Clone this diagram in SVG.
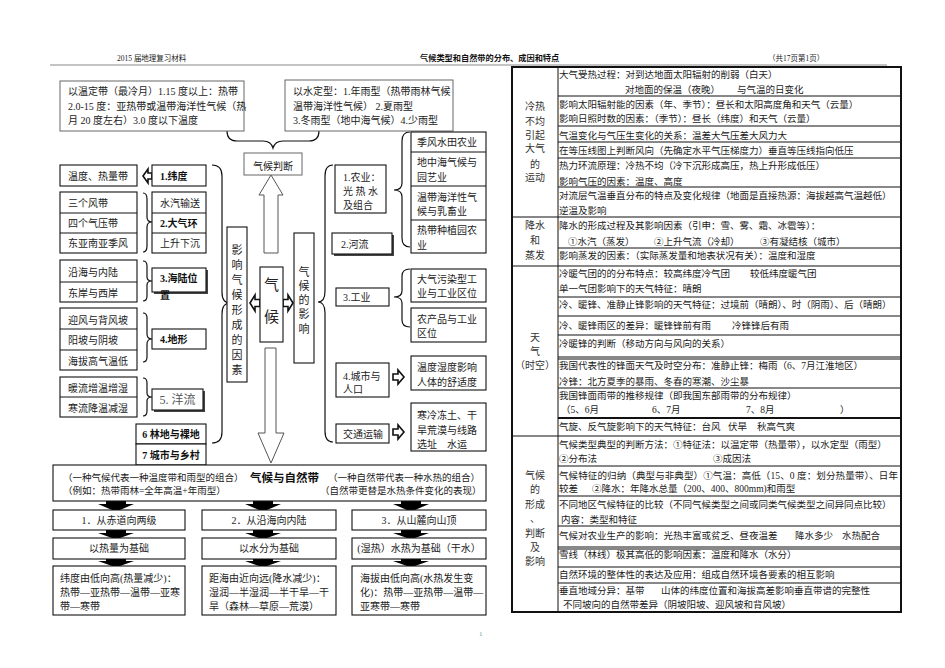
<svg xmlns="http://www.w3.org/2000/svg" width="945" height="668" viewBox="0 0 945 668">
<style>
.t{font-family:"Liberation Serif","Noto Sans CJK SC",serif;font-size:9.5px;fill:#1a1a1a}
.s{font-family:"Liberation Serif","Noto Sans CJK SC",serif;font-size:10px;fill:#222}
.b{font-family:"Liberation Serif","Noto Sans CJK SC",serif;font-size:10px;font-weight:bold;fill:#111}
.m{text-anchor:middle}
.box{fill:#fff;stroke:#111;stroke-width:1.1}
.gbox{fill:#fff;stroke:#666;stroke-width:1}
.ln{stroke:#111;stroke-width:1;fill:none}
.br{stroke:#111;stroke-width:1.2;fill:none}
.ha{fill:#fff;stroke:#111;stroke-width:1.6;stroke-linejoin:miter}
.ba{fill:#000}
.sh{fill:#444}
</style>
<rect width="945" height="668" fill="#fff"/>

<!-- header -->
<g id="header">
<text class="t" x="117" y="61" style="font-size:7.5px">2015 届地理复习材料</text>
<text class="b" x="420" y="61" style="font-size:8.2px">气候类型和自然带的分布、成因和特点</text>
<text class="t" x="768" y="61" style="font-size:7.5px">（共17页第1页）</text>
<line x1="50" y1="65" x2="887" y2="65" stroke="#888" stroke-width="1"/>
<text class="t" x="479" y="636" style="font-size:7px;fill:#79a">1</text>
</g>

<!-- connectors -->
<g id="connectors">
<path class="br" d="M227,131 Q227,141 237,141 L263,141 Q271,141 273,148 Q275,141 283,141 L309,141 Q319,141 319,131"/>
<path class="br" d="M212,165 Q222,165 222,176 L222,292 Q222,303 230,303 Q222,303 222,314 L222,432 Q222,443 212,443"/>
<path class="br" d="M333,165 Q325,165 325,176 L325,291 Q325,302 318,302 Q325,302 325,313 L325,431 Q325,442 333,442"/>
<path class="br" d="M143,193 Q147,193 147,199 L147,217 Q147,222 152,222 Q147,222 147,227 L147,246 Q147,252 143,252"/>
<path class="br" d="M143,261 Q147,261 147,266 L147,277 Q147,281 152,281 Q147,281 147,285 L147,296 Q147,301 143,301"/>
<path class="br" d="M143,313 Q147,313 147,318 L147,334 Q147,339 152,339 Q147,339 147,344 L147,357 Q147,362 143,362"/>
<path class="br" d="M143,378 Q147,378 147,383 L147,393 Q147,397 152,397 Q147,397 147,401 L147,411 Q147,416 143,416"/>
<path class="br" d="M410,132 Q402,132 402,141 L402,183 Q402,190 394,190 Q402,190 402,197 L402,238 Q402,247 410,247"/>
<path class="br" d="M410,269 Q402,269 402,276 L402,291 Q402,297 394,297 Q402,297 402,303 L402,320 Q402,327 410,327"/>
<!-- hollow arrows -->
<polygon class="ha" points="143,176 148,169 148,173 152,173 152,179 148,179 148,183"/>
<polygon class="ha" points="250,303 255,295 255,299.5 260,299.5 260,306.5 255,306.5 255,311"/>
<polygon class="ha" points="293,303 288,295 288,299.5 283,299.5 283,306.5 288,306.5 288,311"/>
<polygon class="ha" points="404,377 398,370 398,374 393,374 393,380 398,380 398,384"/>
<polygon class="ha" points="404,432 398,425 398,429 393,429 393,435 398,435 398,439"/>
<polygon points="264,253 264,195 259,195 271,175 283,195 278,195 278,253" fill="#fff" stroke="#555" stroke-width="1"/>
<polygon points="265,348 276,348 276,433 284,433 271,463 258,433 265,433" fill="#fff" stroke="#555" stroke-width="1"/>
<!-- black block arrows -->
<polygon class="ba" points="106,501 126,501 126,504 134,504 120,510 112,510 98,504 106,504"/>
<polygon class="ba" points="253,501 273,501 273,504 281,504 267,510 259,510 245,504 253,504"/>
<polygon class="ba" points="401,501 421,501 421,504 429,504 415,510 407,510 393,504 401,504"/>
<polygon class="ba" points="106,530 126,530 126,533 134,533 120,538 112,538 98,533 106,533"/>
<polygon class="ba" points="253,530 273,530 273,533 281,533 267,538 259,538 245,533 253,533"/>
<polygon class="ba" points="401,530 421,530 421,533 429,533 415,538 407,538 393,533 401,533"/>
<polygon class="ba" points="106,559 126,559 126,561 134,561 120,566 112,566 98,561 106,561"/>
<polygon class="ba" points="253,559 273,559 273,561 281,561 267,566 259,566 245,561 253,561"/>
<polygon class="ba" points="401,559 421,559 421,561 429,561 415,566 407,566 393,561 401,561"/>
</g>

<!-- top boxes -->
<g id="n-temp-type">
<rect class="gbox" x="60" y="81" width="184" height="50"/>
<text class="s" x="68" y="94.5">以温定带（最冷月）1.15 度以上：热带</text>
<text class="s" x="68" y="109.5">2.0-15 度：亚热带或温带海洋性气候（热</text>
<text class="s" x="68" y="124">月 20 度左右）3.0 度以下温度</text>
</g>
<g id="n-water-type">
<rect class="gbox" x="285" y="80" width="168" height="51"/>
<text class="s" x="293" y="94.5">以水定型：1.年雨型（热带雨林气候</text>
<text class="s" x="293" y="109.5">温带海洋性气候）  2.夏雨型</text>
<text class="s" x="293" y="123.5">3.冬雨型（地中海气候）4.少雨型</text>
</g>
<g id="n-judge">
<rect class="gbox" x="244" y="153" width="58" height="22"/>
<text class="s m" x="273" y="169.5">气候判断</text>
</g>
<g id="n-climate">
<rect class="box" x="260" y="267" width="23" height="75"/>
<text class="s m" x="271.5" y="290" style="font-size:15px">气</text>
<text class="s m" x="271.5" y="322" style="font-size:15px">候</text>
</g>
<g id="n-factors">
<rect class="box" x="227" y="227" width="20" height="155"/>
<text class="s m" x="237" y="254" style="font-size:11px">影</text>
<text class="s m" x="237" y="269" style="font-size:11px">响</text>
<text class="s m" x="237" y="284" style="font-size:11px">气</text>
<text class="s m" x="237" y="299" style="font-size:11px">候</text>
<text class="s m" x="237" y="314" style="font-size:11px">形</text>
<text class="s m" x="237" y="329" style="font-size:11px">成</text>
<text class="s m" x="237" y="344" style="font-size:11px">的</text>
<text class="s m" x="237" y="359" style="font-size:11px">因</text>
<text class="s m" x="237" y="374" style="font-size:11px">素</text>
</g>
<g id="n-impact">
<rect class="box" x="294" y="233" width="20" height="130"/>
<text class="s m" x="304" y="276" style="font-size:11px">气</text>
<text class="s m" x="304" y="290" style="font-size:11px">候</text>
<text class="s m" x="304" y="304" style="font-size:11px">的</text>
<text class="s m" x="304" y="318" style="font-size:11px">影</text>
<text class="s m" x="304" y="333" style="font-size:11px">响</text>
</g>

<!-- factor nodes -->
<g id="n-f1">
<rect class="box" x="60" y="165" width="77" height="21"/>
<text class="s" x="68" y="179.5">温度、热量带</text>
<rect class="box" x="152" y="165" width="54" height="21"/>
<text class="b" x="160" y="179.5">1.纬度</text>
</g>
<g id="n-f2">
<rect class="box" x="60" y="192" width="77" height="61"/>
<line class="ln" x1="60" y1="213" x2="137" y2="213"/><line class="ln" x1="60" y1="233" x2="137" y2="233"/>
<text class="s" x="68" y="206.5">三个风带</text>
<text class="s" x="68" y="226.5">四个气压带</text>
<text class="s" x="68" y="247">东亚南亚季风</text>
<rect class="box" x="152" y="192" width="54" height="61"/>
<line class="ln" x1="152" y1="213" x2="206" y2="213"/><line class="ln" x1="152" y1="233" x2="206" y2="233"/>
<text class="s" x="160" y="206.5">水汽输送</text>
<text class="b" x="160" y="226.5">2.大气环</text>
<text class="s" x="160" y="247">上升下沉</text>
</g>
<g id="n-f3">
<rect class="box" x="60" y="260" width="77" height="42"/>
<line class="ln" x1="60" y1="282" x2="137" y2="282"/>
<text class="s" x="68" y="275.5">沿海与内陆</text>
<text class="s" x="68" y="296.5">东岸与西岸</text>
<rect class="sh" x="154" y="270" width="54" height="24"/>
<rect class="box" x="152" y="268" width="54" height="24"/>
<text class="b" x="160" y="281.5">3.海陆位</text>
<text class="b" x="160" y="299">置</text>
</g>
<g id="n-f4">
<rect class="box" x="60" y="308" width="77" height="62"/>
<line class="ln" x1="60" y1="329" x2="137" y2="329"/><line class="ln" x1="60" y1="350" x2="137" y2="350"/>
<text class="s" x="68" y="323.5">迎风与背风坡</text>
<text class="s" x="68" y="343.5">阳坡与阴坡</text>
<text class="s" x="68" y="364.5">海拔高气温低</text>
<rect class="box" x="152" y="329" width="54" height="20"/>
<text class="b" x="160" y="342.5">4.地形</text>
</g>
<g id="n-f5">
<rect class="box" x="60" y="377" width="77" height="40"/>
<line class="ln" x1="60" y1="397" x2="137" y2="397"/>
<text class="s" x="68" y="391.5">暖流增温增湿</text>
<text class="s" x="68" y="411.5">寒流降温减湿</text>
<rect class="sh" x="154" y="391" width="51" height="21"/>
<rect class="box" x="152" y="389" width="51" height="21"/>
<text class="s m" x="177.5" y="404" style="font-size:12px;fill:#555">5. 洋流</text>
</g>
<g id="n-f6">
<rect class="box" x="136" y="424" width="70" height="20"/>
<text class="b m" x="171" y="437.5">6 林地与裸地</text>
</g>
<g id="n-f7">
<rect class="box" x="136" y="444" width="70" height="21"/>
<text class="b m" x="171" y="458.5">7 城市与乡村</text>
</g>

<!-- impact nodes -->
<g id="n-i1">
<rect class="box" x="335" y="165" width="51" height="48"/>
<text class="s" x="343" y="180.5">1.农业：</text>
<text class="s" x="343" y="194.5">光 热 水</text>
<text class="s" x="343" y="208.5">及组合</text>
</g>
<g id="n-i1a">
<rect class="box" x="411" y="132" width="75" height="121"/>
<line class="ln" x1="411" y1="152" x2="486" y2="152"/><line class="ln" x1="411" y1="186" x2="486" y2="186"/><line class="ln" x1="411" y1="220" x2="486" y2="220"/>
<text class="s" x="417" y="145.5">季风水田农业</text>
<text class="s" x="417" y="165.5">地中海气候与</text>
<text class="s" x="417" y="180.5">园艺业</text>
<text class="s" x="417" y="200.5">温带海洋性气</text>
<text class="s" x="417" y="214.5">候与乳畜业</text>
<text class="s" x="417" y="233.5">热带种植园农</text>
<text class="s" x="417" y="248.5">业</text>
</g>
<g id="n-i2">
<rect class="sh" x="334" y="235" width="60" height="21"/>
<rect class="box" x="332" y="233" width="60" height="21"/>
<text class="s" x="341" y="247.5">2.河流</text>
</g>
<g id="n-i3">
<rect class="box" x="336" y="288" width="53" height="18"/>
<text class="s" x="343" y="301">3.工业</text>
</g>
<g id="n-i3a">
<rect class="box" x="411" y="269" width="75" height="33"/>
<text class="s" x="417" y="282.5">大气污染型工</text>
<text class="s" x="417" y="296.5">业与工业区位</text>
<rect class="box" x="411" y="308" width="75" height="34"/>
<text class="s" x="417" y="322.5">农产品与工业</text>
<text class="s" x="417" y="336.5">区位</text>
</g>
<g id="n-i4">
<rect class="box" x="336" y="363" width="53" height="34"/>
<text class="s" x="343" y="379.5">4.城市与</text>
<text class="s" x="343" y="392.5">人口</text>
<rect class="box" x="411" y="356" width="75" height="34"/>
<text class="s" x="417" y="370.5">温度湿度影响</text>
<text class="s" x="417" y="385.5">人体的舒适度</text>
</g>
<g id="n-i5">
<rect class="box" x="336" y="424" width="53" height="19"/>
<text class="s" x="343" y="437.5">交通运输</text>
<rect class="box" x="411" y="403" width="75" height="48"/>
<text class="s" x="417" y="418.5">寒冷冻土、干</text>
<text class="s" x="417" y="433.5">旱荒漠与线路</text>
<text class="s" x="417" y="447.5">选址　水运</text>
</g>

<!-- bottom -->
<g id="n-zone">
<rect class="box" x="53" y="465" width="433" height="36"/>
<text class="t" x="63" y="480.5">（一种气候代表一种温度带和雨型的组合）</text>
<text class="b" x="250" y="481.5" style="font-size:11.5px">气候与自然带</text>
<text class="t" x="328" y="480.5">（一种自然带代表一种水热的组合）</text>
<text class="t" x="63" y="493.5">（例如：热带雨林=全年高温+年雨型）</text>
<text class="t" x="320" y="493.5">（自然带更替是水热条件变化的表现）</text>
</g>
<g id="n-z1">
<rect class="box" x="53" y="510" width="132" height="20"/>
<text class="s m" x="119" y="523.5">1．从赤道向两级</text>
<rect class="box" x="53" y="538" width="132" height="21"/>
<text class="s m" x="119" y="551.5">以热量为基础</text>
<rect class="box" x="53" y="566" width="132" height="49"/>
<text class="s" x="60" y="581.5">纬度由低向高(热量减少)：</text>
<text class="s" x="60" y="595.5">热带—亚热带—温带—亚寒</text>
<text class="s" x="60" y="610">带—寒带</text>
</g>
<g id="n-z2">
<rect class="box" x="202" y="510" width="134" height="20"/>
<text class="s m" x="269" y="523.5">2．从沿海向内陆</text>
<rect class="box" x="202" y="538" width="134" height="21"/>
<text class="s m" x="269" y="551.5">以水分为基础</text>
<rect class="box" x="202" y="566" width="134" height="49"/>
<text class="s" x="209" y="581.5">距海由近向远(降水减少)：</text>
<text class="s" x="209" y="595.5">湿润—半湿润—半干旱—干</text>
<text class="s" x="209" y="610">旱（森林—草原—荒漠）</text>
</g>
<g id="n-z3">
<rect class="box" x="352" y="510" width="134" height="20"/>
<text class="s m" x="419" y="523.5">3．从山麓向山顶</text>
<rect class="box" x="352" y="538" width="134" height="21"/>
<text class="s m" x="419" y="551.5">(湿热）水热为基础（干水）</text>
<rect class="box" x="352" y="566" width="134" height="49"/>
<text class="s" x="360" y="581.5">海拔由低向高(水热发生变</text>
<text class="s" x="360" y="595.5">化)：热带—亚热带—温带—</text>
<text class="s" x="360" y="610">亚寒带—寒带</text>
</g>

<!-- right table -->
<g id="table">
<rect x="512" y="67" width="389" height="545" fill="none" stroke="#111" stroke-width="2"/>
<line class="ln" x1="558" y1="67" x2="558" y2="612"/>
<g stroke="#111" stroke-width="1.2">
<line x1="512" y1="217" x2="901" y2="217"/>
<line x1="512" y1="266" x2="901" y2="266"/>
<line x1="512" y1="436" x2="901" y2="436"/>
</g>
<g class="ln" stroke="#111">
<line x1="558" y1="96" x2="901" y2="96"/>
<line x1="558" y1="126" x2="901" y2="126"/>
<line x1="558" y1="142" x2="901" y2="142"/>
<line x1="558" y1="158" x2="901" y2="158"/>
<line x1="558" y1="187" x2="901" y2="187"/>
<line x1="558" y1="248" x2="901" y2="248"/>
<line x1="558" y1="297" x2="901" y2="297"/>
<line x1="558" y1="316" x2="901" y2="316"/>
<line x1="558" y1="335" x2="901" y2="335"/>
<line x1="558" y1="357" x2="901" y2="357"/>
<line x1="558" y1="359" x2="901" y2="359"/>
<line x1="558" y1="388" x2="901" y2="388"/>
<line x1="558" y1="418" x2="901" y2="418" stroke-width="2"/>
<line x1="558" y1="466" x2="901" y2="466"/>
<line x1="558" y1="496" x2="901" y2="496"/>
<line x1="558" y1="526" x2="901" y2="526"/>
<line x1="558" y1="547" x2="901" y2="547"/>
<line x1="558" y1="549" x2="901" y2="549"/>
<line x1="558" y1="567" x2="901" y2="567"/>
<line x1="558" y1="583" x2="901" y2="583"/>
</g>
<!-- labels -->
<g class="s m" style="font-size:10px;fill:#333">
<text x="535" y="109.5">冷热</text><text x="535" y="124.5">不均</text><text x="535" y="138.5">引起</text><text x="535" y="151.5">大气</text><text x="535" y="167.5">的</text><text x="535" y="180.5">运动</text>
<text x="535" y="228.5">降水</text><text x="535" y="243.5">和</text><text x="535" y="258.5">蒸发</text>
<text x="535" y="340.5">天</text><text x="535" y="354.5">气</text><text x="535" y="368.5">（时空）</text>
<text x="535" y="478.5">气候</text><text x="535" y="492.5">的</text><text x="535" y="507.5">形成</text><text x="535" y="521.5">、</text><text x="535" y="536.5">判断</text><text x="535" y="550.5">及</text><text x="535" y="564.5">影响</text>
</g>
<g class="t">
<text x="559" y="77.5">大气受热过程：对到达地面太阳辐射的削弱（白天）</text>
<text x="625" y="92.5">对地面的保温（夜晚）</text><text x="737" y="92.5">与气温的日变化</text>
<text x="559" y="107.5">影响太阳辐射能的因素（年、季节）：昼长和太阳高度角和天气（云量）</text>
<text x="559" y="121.5">影响日照时数的因素：（季节）：昼长（纬度）和天气（云量）</text>
<text x="559" y="138.5">气温变化与气压生变化的关系：温差大气压差大风力大</text>
<text x="559" y="153.5">在等压线图上判断风向（先确定水平气压梯度力）垂直等压线指向低压</text>
<text x="559" y="168.5">热力环流原理：冷热不均（冷下沉形成高压，热上升形成低压）</text>
<text x="559" y="184.5">影响气压的因素：温度、高度</text>
<text x="559" y="198.5">对流层气温垂直分布的特点及变化规律（地面是直接热源：海拔越高气温越低）</text>
<text x="559" y="214">逆温及影响</text>
<text x="559" y="228.5">降水的形成过程及其影响因素（引申：雪、雾、霜、冰雹等）：</text>
<text x="568" y="244.5">①水汽（蒸发）</text><text x="654" y="244.5">②上升气流（冷却）</text><text x="760" y="244.5">③有凝结核（城市）</text>
<text x="559" y="258.5">影响蒸发的因素：（实际蒸发量和地表状况有关）：温度和湿度</text>
<text x="559" y="276.5">冷暖气团的的分布特点：较高纬度冷气团</text><text x="750" y="276.5">较低纬度暖气团</text>
<text x="559" y="291.5">单一气团影响下的天气特征：晴朗</text>
<text x="559" y="307.5">冷、暖锋、准静止锋影响的天气特征：过境前（晴朗）、时（阴雨）、后（晴朗）</text>
<text x="559" y="328.5">冷、暖锋雨区的差异：暖锋锋前有雨</text><text x="732" y="328.5">冷锋锋后有雨</text>
<text x="559" y="346.5">冷暖锋的判断（移动方向与风向的关系）</text>
<text x="559" y="368.5">我国代表性的锋面天气及时空分布：准静止锋：梅雨（6、7月江淮地区）</text>
<text x="559" y="384.5">冷锋：北方夏季的暴雨、冬春的寒潮、沙尘暴</text>
<text x="559" y="398.5">我国锋面雨带的推移规律（即我国东部雨带的分布规律）</text>
<text x="561" y="412.5">（5、6月</text><text x="652" y="412.5">6、7月</text><text x="746" y="412.5">7、8月</text><text x="840" y="412.5">）</text>
<text x="559" y="429.5">气旋、反气旋影响下的天气特征：台风</text><text x="728" y="429.5">伏旱</text><text x="757" y="429.5">秋高气爽</text>
<text x="559" y="447.5">气候类型典型的判断方法：①特征法：以温定带（热量带），以水定型（雨型）</text>
<text x="559" y="461.5">②分布法</text><text x="713" y="461.5">③成因法</text>
<text x="559" y="478.5" textLength="339" lengthAdjust="spacing">气候特征的归纳（典型与非典型）①气温：高低（15、0 度：划分热量带）、日年</text>
<text x="559" y="491.5">较差</text><text x="592" y="491.5">②降水：年降水总量（200、400、800mm)和雨型</text>
<text x="559" y="507.5">不同地区气候特征的比较（不同气候类型之间或同类气候类型之间异同点比较）</text>
<text x="561" y="522.5">内容：类型和特征</text>
<text x="559" y="538.5">气候对农业生产的影响：光热丰富或贫乏、昼夜温差</text><text x="795" y="538.5">降水多少</text><text x="842" y="538.5">水热配合</text>
<text x="559" y="557.5">雪线（林线）极其高低的影响因素：温度和降水（水分）</text>
<text x="559" y="577.5">自然环境的整体性的表达及应用：组成自然环境各要素的相互影响</text>
<text x="559" y="593.5">垂直地域分异：基带</text><text x="661" y="593.5">山体的纬度位置和海拔高差影响垂直带谱的完整性</text>
<text x="563" y="607.5">不同坡向的自然带差异（阴坡阳坡、迎风坡和背风坡）</text>
</g>
</g>
</svg>
